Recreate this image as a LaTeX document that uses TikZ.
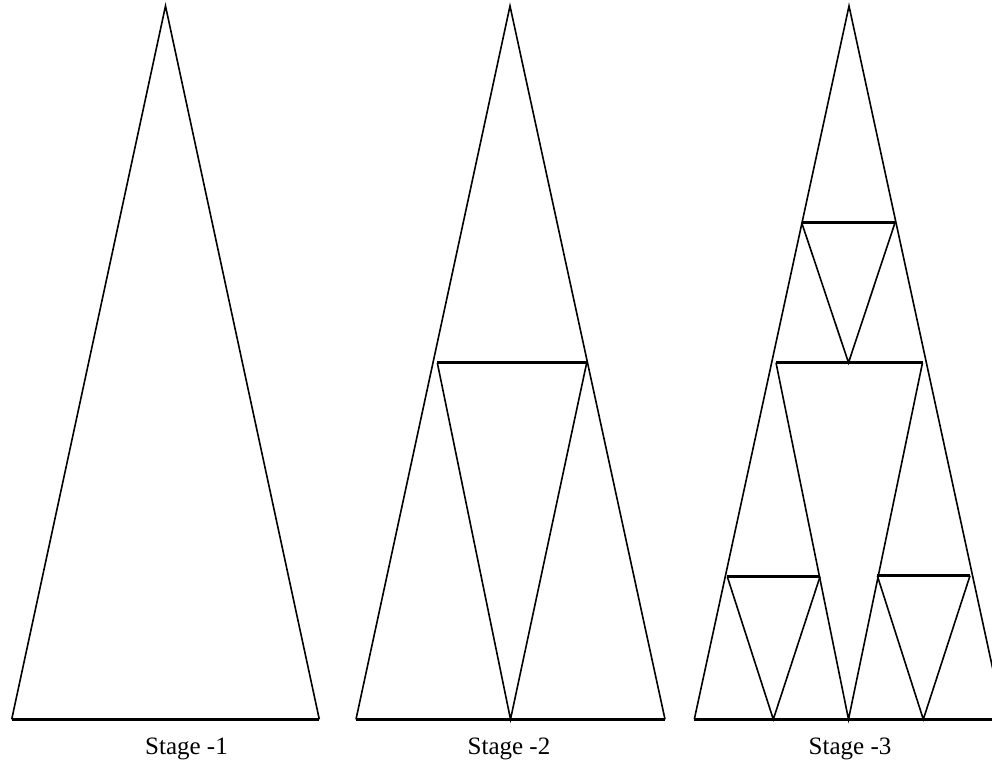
\documentclass[tikz,border=0pt]{standalone}
\usepackage{fontspec}
\setmainfont{Liberation Serif}
\begin{document}
\begin{tikzpicture}[x=1pt,y=-1pt,
  edge/.style={line width=1.6pt,line join=miter},
  bar/.style={line width=2.8pt},
  lbl/.style={anchor=base,inner sep=0pt,font=\fontsize{25}{30}\selectfont}]
\useasboundingbox (0,0) rectangle (992,761);
\clip (0,0) rectangle (992,761);
% triangle 1
\coordinate (A1) at (165.5,6);
\coordinate (L1) at (11.7,719.3);
\coordinate (R1) at (319.3,719.3);
% triangle 2
\coordinate (A2) at (510,6);
\coordinate (L2) at (356,719.3);
\coordinate (R2) at (665,719.3);
\coordinate (P2) at (437.3,362.7);
\coordinate (Q2) at (586.7,362.7);
\coordinate (B2) at (510.5,719.3);
% triangle 3
\coordinate (A3) at (849,6);
\coordinate (L3) at (694.3,719.3);
\coordinate (R3) at (1003.7,719.3);
\coordinate (P3) at (776,362.7);
\coordinate (Q3) at (922.5,362.7);
\coordinate (B3) at (848.5,719.3);
\coordinate (P4) at (801.7,222.7);
\coordinate (Q4) at (895,222.7);
\coordinate (B4) at (848.5,362.7);
\coordinate (P5) at (727.3,576.7);
\coordinate (Q5) at (820,576.7);
\coordinate (B5) at (773.3,719.3);
\coordinate (P6) at (877.3,575.7);
\coordinate (Q6) at (970,575.7);
\coordinate (B6) at (923.3,719.3);
% stage 1
\draw[edge] (L1) -- (A1) -- (R1);
\draw[bar] (L1) -- (R1);
% stage 2
\draw[edge] (L2) -- (A2) -- (R2);
\draw[bar] (L2) -- (R2);
\draw[edge] (P2) -- (B2) -- (Q2);
\draw[bar] (P2) -- (Q2);
% stage 3
\draw[edge] (L3) -- (A3) -- (R3);
\draw[bar] (L3) -- (R3);
\draw[edge] (P3) -- (B3) -- (Q3);
\draw[bar] (P3) -- (Q3);
\draw[edge] (P4) -- (B4) -- (Q4);
\draw[bar] (P4) -- (Q4);
\draw[edge] (P5) -- (B5) -- (Q5);
\draw[bar] (P5) -- (Q5);
\draw[edge] (P6) -- (B6) -- (Q6);
\draw[bar] (P6) -- (Q6);
% labels
\node[lbl] (s1) at (186.5,754) {Stage -1};
\node[lbl] (s2) at (509,754) {Stage -2};
\node[lbl] (s3) at (850,754) {Stage -3};
\end{tikzpicture}
\end{document}
